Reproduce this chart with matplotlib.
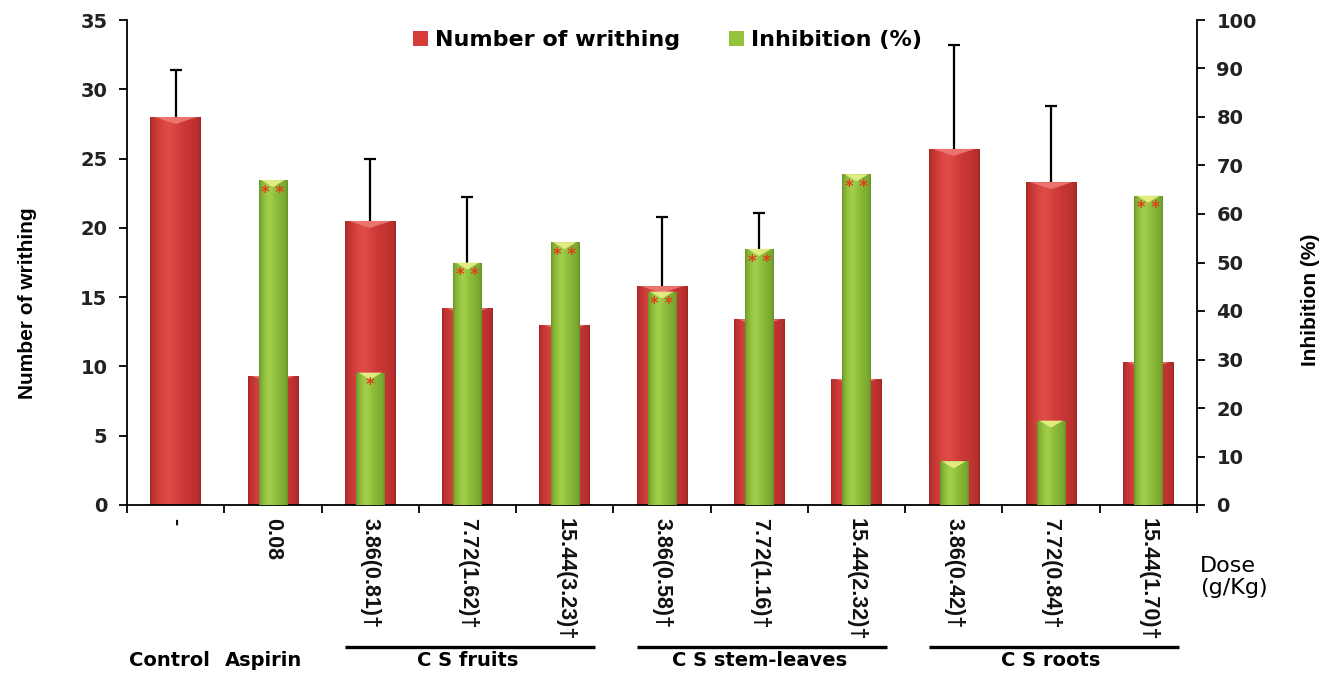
import numpy as np
import matplotlib
matplotlib.use("Agg")
import matplotlib.pyplot as plt
from matplotlib.patches import Polygon
from matplotlib.colors import to_rgb
import matplotlib.transforms as mtransforms

# ---------------- data ----------------
dose_labels = ["-", "0.08", "3.86(0.81)\u2020", "7.72(1.62)\u2020", "15.44(3.23)\u2020",
               "3.86(0.58)\u2020", "7.72(1.16)\u2020", "15.44(2.32)\u2020",
               "3.86(0.42)\u2020", "7.72(0.84)\u2020", "15.44(1.70)\u2020"]
writhing = [28.0, 9.3, 20.5, 14.2, 13.0, 15.8, 13.4, 9.1, 25.7, 23.3, 10.3]
writhing_err = [3.4, 3.0, 4.5, 8.0, 4.5, 5.0, 7.7, 3.5, 7.5, 5.5, 4.0]
inhibition = [np.nan, 67.0, 27.3, 50.0, 54.2, 44.0, 52.8, 68.2, 9.0, 17.4, 63.8]
significance = ["", "* *", "*", "* *", "* *", "* *", "* *", "* *", "", "", "* *"]
single_labels = [("Control", 0), ("Aspirin", 1)]
groups = [("C S fruits", 2, 4), ("C S stem-leaves", 5, 7), ("C S roots", 8, 10)]

# ---------------- style ----------------
W, H = 1338, 673
fig = plt.figure(figsize=(W / 100, H / 100), dpi=100)
ax = fig.add_axes([127 / W, 1 - 505 / H, (1197 - 127) / W, (505 - 20) / H])
ax2 = ax.twinx()

x = np.arange(len(dose_labels))
red_w, green_w = 0.52, 0.29

red_bars = ax.bar(x, writhing, width=red_w, color="#d63d3a", linewidth=0, zorder=2)
eb = ax.errorbar(x, writhing, yerr=[np.zeros(len(x)), writhing_err], fmt="none",
                 ecolor="black", elinewidth=1.6, capsize=4.5, capthick=1.6, zorder=3)
# keep only the upper caps
caps = eb[1]
if len(caps) == 2:
    caps[0].set_visible(False)
green_bars = ax2.bar(x, inhibition, width=green_w, color="#93c43c", linewidth=0, zorder=2)

ax.set_xlim(-0.5, len(x) - 0.5)
ax.set_ylim(0, 35)
ax2.set_ylim(0, 100)
ax.set_yticks(np.arange(0, 36, 5))
ax2.set_yticks(np.arange(0, 101, 10))


def shade(axis, bars, edge, mid, hi, bevel, zo):
    t = np.linspace(0, 1, 80)
    e, m, h = map(np.array, (to_rgb(edge), to_rgb(mid), to_rgb(hi)))
    prof = np.where(t < 0.35, t / 0.35, (1 - t) / 0.65)
    prof = prof ** 0.35
    hl = np.exp(-((t - 0.35) / 0.18) ** 2)
    cols = e[None, :] * (1 - prof[:, None]) + m[None, :] * prof[:, None]
    cols = cols * (1 - 0.5 * hl[:, None]) + h[None, :] * 0.5 * hl[:, None]
    img = cols[None, :, :]
    ylo, yhi = axis.get_ylim()
    dpx = (yhi - ylo) / (505 - 20)
    for p in bars:
        hgt = p.get_height()
        if not np.isfinite(hgt) or hgt <= 0:
            continue
        x0, y0, w = p.get_x(), p.get_y(), p.get_width()
        im = axis.imshow(img, extent=[x0, x0 + w, y0, y0 + hgt], aspect="auto",
                         interpolation="bilinear", zorder=zo)
        im.set_clip_path(p)
        bh = min(7 * dpx, hgt)
        poly = Polygon([[x0 + 0.08 * w, y0 + hgt], [x0 + 0.92 * w, y0 + hgt],
                        [x0 + 0.5 * w, y0 + hgt - bh]], closed=True,
                       facecolor=bevel, edgecolor="none", alpha=0.9, zorder=zo + 0.01)
        axis.add_patch(poly)
    axis.set_xlim(-0.5, len(x) - 0.5)
    axis.set_ylim(ylo, yhi)


shade(ax, red_bars, "#9e2424", "#d63d3a", "#e85a55", "#ee7a74", 2.1)
shade(ax2, green_bars, "#5c8a22", "#93c43c", "#b0d95a", "#e9f08a", 2.1)

# significance stars
for xi, val, s in zip(x, inhibition, significance):
    if s and np.isfinite(val):
        ax2.text(xi, val - 2.6, s, ha="center", va="center", color="#e0401c",
                 fontsize=12, fontweight="bold", zorder=5, family="DejaVu Sans")

# spines & ticks
for a in (ax, ax2):
    a.spines["top"].set_visible(False)
ax.spines["right"].set_visible(False)
ax2.spines["left"].set_visible(False)
ax2.spines["bottom"].set_visible(False)
for sp in ("left", "bottom"):
    ax.spines[sp].set_linewidth(1.3)
ax2.spines["right"].set_linewidth(1.3)

ax.set_xticks(np.arange(-0.5, len(x), 1.0))
ax.set_xticklabels([])
ax.set_xticks(x, minor=True)
ax.set_xticklabels(dose_labels, minor=True, rotation=-90, va="top", ha="center",
                   fontsize=15.5, fontweight="bold", family="Liberation Sans", color="#111111")
ax.tick_params(axis="x", which="major", direction="out", length=6, width=1.3)
ax.tick_params(axis="x", which="minor", length=0, pad=9)
ax.tick_params(axis="y", direction="out", length=6, width=1.3, pad=8)
ax2.tick_params(axis="y", direction="out", length=6, width=1.3, pad=8)
for lbl in ax.get_yticklabels() + ax2.get_yticklabels():
    lbl.set_fontsize(14)
    lbl.set_fontweight("bold")
    lbl.set_family("DejaVu Sans")
    lbl.set_color("#222222")

# axis titles
fig.text(28 / W, 1 - 303 / H, "Number of writhing", rotation=90, ha="center", va="center",
         fontsize=15, fontweight="bold", family="Liberation Sans")
fig.text(1310 / W, 1 - 300 / H, "Inhibition (%)", rotation=90, ha="center", va="center",
         fontsize=15, fontweight="bold", family="Liberation Sans")
fig.text(1200 / W, 1 - 577 / H, "Dose\n(g/Kg)", ha="left", va="center", fontsize=16,
         family="DejaVu Sans", linespacing=1.15)

# group labels
trans = mtransforms.blended_transform_factory(ax.transData, fig.transFigure)
for name, idx in single_labels:
    ax.text(idx - 0.06 if idx == 0 else idx - 0.1, 1 - 660 / H, name, transform=trans,
            ha="center", va="center", fontsize=14, fontweight="bold", family="DejaVu Sans")
for name, i0, i1 in groups:
    ax.plot([i0 - 0.26, i1 + 0.31], [1 - 647 / H] * 2, transform=trans, color="black",
            lw=2.4, clip_on=False, solid_capstyle="butt")
    ax.text((i0 + i1) / 2, 1 - 661 / H, name, transform=trans, ha="center",
            va="center", fontsize=14, fontweight="bold", family="DejaVu Sans")

# legend
leg = ax2.legend([red_bars, green_bars], ["Number of writhing", "Inhibition (%)"],
                 loc="center", bbox_to_anchor=(0.505, 0.958), ncol=2, frameon=False,
                 handlelength=0.7, handleheight=0.7, handletextpad=0.3, columnspacing=2.2,
                 prop={"family": "DejaVu Sans", "weight": "bold", "size": 16})
leg.set_zorder(10)

fig.savefig("out.png", dpi=100)
